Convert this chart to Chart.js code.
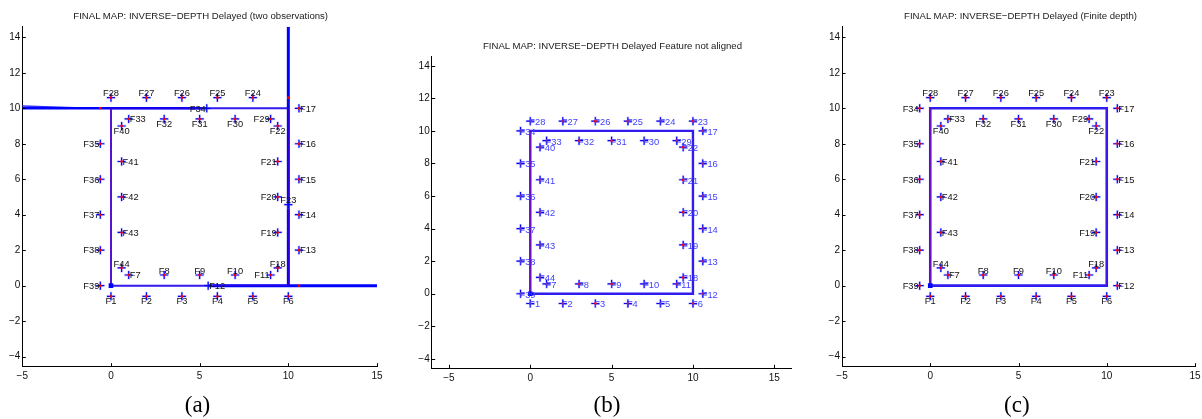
<!DOCTYPE html>
<html><head><meta charset="utf-8">
<script src="https://cdn.jsdelivr.net/npm/chart.js@4/dist/chart.umd.min.js"></script>
<style>
html,body{margin:0;padding:0;background:#fff;width:1202px;height:419px;overflow:hidden;}
canvas{position:absolute;left:0;top:0;}
.t{position:absolute;font-family:"Liberation Sans",Arial,sans-serif;font-size:9.6px;color:#1a1a1a;white-space:nowrap;text-align:center;width:400px;line-height:12px;}
.c{position:absolute;font-family:"Liberation Serif","Times New Roman",serif;font-size:23px;color:#000;text-align:center;width:100px;line-height:26px;}
</style></head><body>
<canvas id="ca" width="1202" height="419"></canvas>
<canvas id="cb" width="1202" height="419"></canvas>
<canvas id="cc" width="1202" height="419"></canvas>
<div class="t" style="left:0.7px;top:9.7px;">FINAL MAP: INVERSE−DEPTH Delayed (two observations)</div>
<div class="t" style="left:412.5px;top:39.7px;">FINAL MAP: INVERSE−DEPTH Delayed Feature not aligned</div>
<div class="t" style="left:820.5px;top:9.7px;">FINAL MAP: INVERSE−DEPTH Delayed (Finite depth)</div>
<div class="c" style="left:147.5px;top:392px;">(a)</div>
<div class="c" style="left:557px;top:392px;">(b)</div>
<div class="c" style="left:966.8px;top:392px;">(c)</div>
<script>
// ---------------- data ----------------
const xTicks = [-5, 0, 5, 10, 15];
const yTicks = [-4, -2, 0, 2, 4, 6, 8, 10, 12, 14];

const featNames = ['F1','F2','F3','F4','F5','F6','F7','F8','F9','F10','F11','F12','F13','F14','F15','F16','F17','F18','F19','F20','F21','F22','F23','F24','F25','F26','F27','F28','F29','F30','F31','F32','F33','F34','F35','F36','F37','F38','F39','F40','F41','F42','F43','F44'];
// ground-truth landmark positions (red dots)
const trueX = [0,2,4,6,8,10, 1,3,5,7,9, 10.6,10.6,10.6,10.6,10.6,10.6, 9.4,9.4,9.4,9.4,9.4, 10, 8,6,4,2,0, 9,7,5,3,1, -0.6,-0.6,-0.6,-0.6,-0.6,-0.6, 0.6,0.6,0.6,0.6,0.6];
const trueY = [-0.6,-0.6,-0.6,-0.6,-0.6,-0.6, 0.6,0.6,0.6,0.6,0.6, 0,2,4,6,8,10, 1,3,5,7,9, 10.6, 10.6,10.6,10.6,10.6,10.6, 9.4,9.4,9.4,9.4,9.4, 10,8,6,4,2,0, 9,7,5,3,1];
// estimated positions, panel (a) (F12, F23, F34 not converged)
const estAX = [0,2,4,6,8,10, 1,3,5,7,9, 5.48,10.6,10.6,10.6,10.6,10.6, 9.4,9.4,9.4,9.4,9.4, 10, 8,6,4,2,0, 9,7,5,3,1, 5.4,-0.6,-0.6,-0.6,-0.6,-0.6, 0.6,0.6,0.6,0.6,0.6];
const estAY = [-0.6,-0.6,-0.6,-0.6,-0.6,-0.6, 0.6,0.6,0.6,0.6,0.6, 0,2,4,6,8,10, 1,3,5,7,9, 4.57, 10.6,10.6,10.6,10.6,10.6, 9.4,9.4,9.4,9.4,9.4, 10,8,6,4,2,0, 9,7,5,3,1];
// estimated positions, panels (b) and (c)
const estBX = [0,2,4,6,8,10, 1,3,5,7,9, 10.6,10.6,10.6,10.6,10.6,10.6, 9.4,9.4,9.4,9.4,9.4, 10, 8,6,4,2,0, 9,7,5,3,1, -0.6,-0.6,-0.6,-0.6,-0.6,-0.6, 0.6,0.6,0.6,0.6,0.6];
const estBY = [-0.6,-0.6,-0.6,-0.6,-0.6,-0.6, 0.6,0.6,0.6,0.6,0.6, 0,2,4,6,8,10, 1,3,5,7,9, 10.6, 10.6,10.6,10.6,10.6,10.6, 9.4,9.4,9.4,9.4,9.4, 10,8,6,4,2,0, 9,7,5,3,1];
const estCX = estBX, estCY = estBY;
// label placement (a),(c): a=above b=below l=left r=right
const labelPos = ['b','b','b','b','b','b', 'r','a','a','a','l', 'r','r','r','r','r','r', 'a','l','l','l','b', 'a', 'a','a','a','a','a', 'l','b','b','b','r', 'l','l','l','l','l','l', 'b','r','r','r','a'];

// camera trajectory (estimated) and ground truth
const trajX = [0, 10, 10, 0, 0];
const trajY = [0, 0, 10, 10, 0];
const truthX = [0, 10, 10, 0, 0];
const truthY = [0, 0, 10, 10, 0];
// panel (a): rays of the non-converged features
const rayA1X = [5.48, 15], rayA1Y = [0, 0];
const rayA2X = [10, 10],   rayA2Y = [0, 14.6];
const rayA3X = [5.4, -5],  rayA3Y = [10, 10];
const rayA4X = [-5, -1.2], rayA4Y = [10.13, 10];
const startX = [0], startY = [0];

// ---------------- helpers ----------------
const zip = (xs, ys) => xs.map((v, i) => ({x: v, y: ys[i]}));
const FONT = '"Liberation Sans", Arial, sans-serif';
const BLUE = '#0000ff';

function lineDS(xs, ys, color, width, order, dash) {
  return {data: zip(xs, ys), showLine: true, pointRadius: 0, borderColor: color, borderWidth: width,
          borderDash: dash || [], fill: false, tension: 0, order: order, borderCapStyle: 'butt'};
}
function crossDS(xs, ys, color, width, r, order) {
  return {data: zip(xs, ys), showLine: false, pointStyle: 'cross', pointRadius: r,
          pointBorderColor: color, pointBorderWidth: width, pointBackgroundColor: 'rgba(0,0,0,0)', order: order};
}
function dotDS(xs, ys, order) {
  return {data: zip(xs, ys), showLine: false, pointStyle: 'circle', pointRadius: 1.3,
          pointBorderWidth: 0, pointBackgroundColor: '#ff0000', pointBorderColor: '#ff0000', order: order};
}
function startDS(order) {
  return {data: zip(startX, startY), showLine: false, pointStyle: 'rect', pointRadius: 3.3,
          pointBackgroundColor: BLUE, pointBorderColor: BLUE, pointBorderWidth: 0, order: order};
}

const overlay = {
  id: 'overlay',
  afterDatasetsDraw(chart, args, o) {
    const {ctx, scales: {x, y}} = chart;
    ctx.save();
    ctx.font = '9.3px ' + FONT;
    ctx.fillStyle = o.color;
    ctx.textBaseline = 'alphabetic';
    featNames.forEach((n, i) => {
      const px = x.getPixelForValue(o.lx[i]), py = y.getPixelForValue(o.ly[i]);
      const p = o.inline ? 'i' : o.pos[i];
      if (p === 'r') { ctx.textAlign = 'left'; ctx.fillText(n, px + 1, py + 3.3); }
      else if (p === 'l') { ctx.textAlign = 'right'; ctx.fillText(n, px - 1, py + 3.3); }
      else if (p === 'a') { ctx.textAlign = 'center'; ctx.fillText(n, px, py - 1.2); }
      else if (p === 'b') { ctx.textAlign = 'center'; ctx.fillText(n, px, py + 8); }
      else { ctx.textAlign = 'left'; ctx.fillText(n, px - 1, py + 4); }
    });
    ctx.restore();
  },
  afterDraw(chart) {
    const {ctx, chartArea: a, scales: {x, y}} = chart;
    ctx.save();
    ctx.strokeStyle = '#000'; ctx.lineWidth = 1;
    ctx.beginPath();
    x.ticks.forEach(t => {
      const px = Math.round(x.getPixelForValue(t.value)) + 0.5;
      ctx.moveTo(px, a.bottom); ctx.lineTo(px, a.bottom - 3.5);
    });
    y.ticks.forEach(t => {
      const py = Math.round(y.getPixelForValue(t.value)) + 0.5;
      ctx.moveTo(a.left, py); ctx.lineTo(a.left + 3.5, py);
    });
    ctx.stroke();
    ctx.restore();
  }
};

const fmt = v => String(v).replace('-', '\u2212');

function makeChart(id, area, xr, yr, datasets, ov) {
  const pad = {left: area.left - 30, right: 1202 - area.right, top: area.top, bottom: 419 - 20 - area.bottom};
  const tickFont = {family: FONT, size: 10};
  return new Chart(document.getElementById(id), {
    type: 'scatter',
    data: {datasets: datasets},
    options: {
      responsive: false, animation: false, devicePixelRatio: 1,
      layout: {padding: pad},
      plugins: {legend: {display: false}, tooltip: {enabled: false}, title: {display: false}, overlay: ov},
      scales: {
        x: {type: 'linear', min: xr[0], max: xr[1],
            afterBuildTicks: s => { s.ticks = xTicks.map(v => ({value: v})); },
            afterFit: s => { s.height = 20; s.paddingLeft = 0; s.paddingRight = 0; },
            grid: {display: false, drawTicks: false},
            border: {display: true, color: '#000', width: 1},
            ticks: {padding: 4, color: '#111', font: tickFont, autoSkip: false, maxRotation: 0, callback: fmt}},
        y: {type: 'linear', min: yr[0], max: yr[1],
            afterBuildTicks: s => { s.ticks = yTicks.map(v => ({value: v})); },
            afterFit: s => { s.width = 30; s.paddingTop = 0; s.paddingBottom = 0; },
            grid: {display: false, drawTicks: false},
            border: {display: true, color: '#000', width: 1},
            ticks: {padding: 2, color: '#111', font: tickFont, autoSkip: false, callback: fmt}}
      }
    },
    plugins: [overlay]
  });
}

const TRUTH = 'rgba(200,0,120,0.3)';
const TRAJ = '#1f1fff';

// panel (a)
makeChart('ca', {left: 22.3, right: 377, top: 26.7, bottom: 366.7}, [-5, 15], [-4.57, 14.6], [
  startDS(0),
  dotDS(trueX, trueY, 1),
  crossDS(estAX, estAY, BLUE, 1.2, 4, 2),
  crossDS(estAX, estAY, 'rgba(120,120,255,0.4)', 2.4, 4.6, 3),
  lineDS(truthX, truthY, TRUTH, 0.8, 4),
  lineDS(rayA1X, rayA1Y, BLUE, 3, 5),
  lineDS(rayA2X, rayA2Y, BLUE, 3, 5),
  lineDS(rayA3X, rayA3Y, BLUE, 2.6, 5),
  lineDS(rayA4X, rayA4Y, '#3030ff', 1.6, 5),
  lineDS(trajX, trajY, TRAJ, 2, 6)
], {color: '#111', lx: estAX, ly: estAY, pos: labelPos, inline: false});

// panel (b)
makeChart('cb', {left: 431.7, right: 791.7, top: 56, bottom: 368.3}, [-6.06, 16.07], [-4.58, 14.6], [
  startDS(0),
  dotDS(trueX, trueY, 1),
  crossDS(estBX, estBY, BLUE, 1.2, 4, 2),
  crossDS(estBX, estBY, 'rgba(120,120,255,0.4)', 2.4, 4.6, 3),
  lineDS(truthX, truthY, TRUTH, 0.8, 4),
  lineDS(trajX, trajY, TRAJ, 2.4, 6)
], {color: '#4040ff', lx: estBX, ly: estBY, pos: labelPos, inline: true});

// panel (c)
makeChart('cc', {left: 842, right: 1196.7, top: 26.7, bottom: 366.7}, [-5, 15], [-4.57, 14.6], [
  startDS(0),
  dotDS(trueX, trueY, 1),
  crossDS(estCX, estCY, BLUE, 1.2, 4, 2),
  crossDS(estCX, estCY, 'rgba(120,120,255,0.4)', 2.4, 4.6, 3),
  lineDS(truthX, truthY, TRUTH, 0.8, 4),
  lineDS(trajX, trajY, TRAJ, 2.6, 6)
], {color: '#111', lx: estCX, ly: estCY, pos: labelPos, inline: false});
</script>
</body></html>
